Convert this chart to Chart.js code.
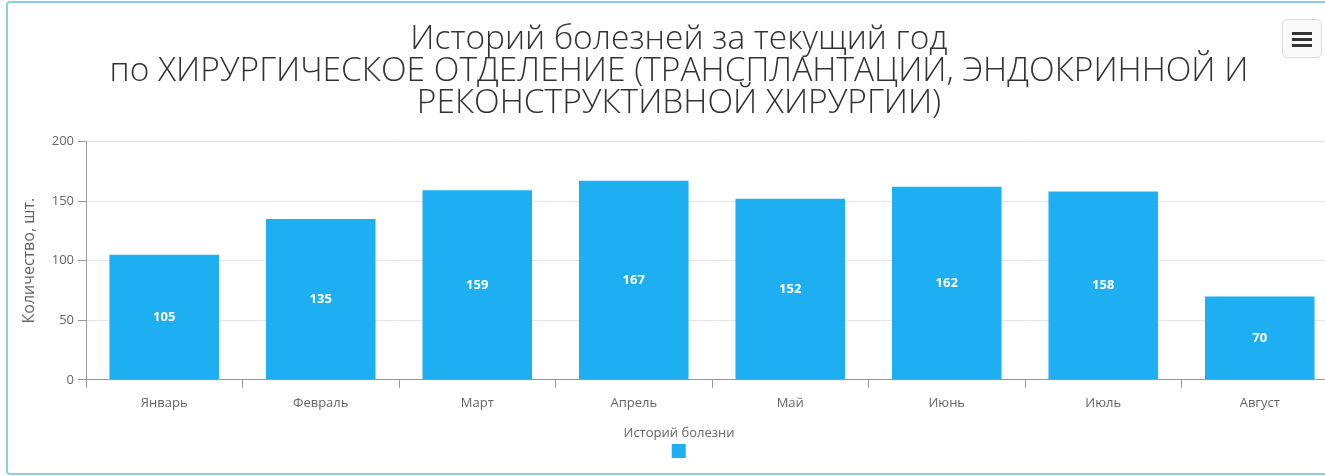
<!DOCTYPE html>
<html lang="ru">
<head>
    <meta charset="UTF-8">
    <title>Историй болезней за текущий год</title>
    <script src="https://cdn.jsdelivr.net/npm/chart.js"></script>
    <style>
        body {
            margin: 0;
            overflow: hidden;
            background: #fff;
            font-family: "Open Sans", sans-serif;
        }
        #box {
            position: absolute;
            left: 6px;
            top: 1px;
            width: 1340px;
            height: 470px;
            border: 2px solid #8ad2da;
            border-radius: 4px;
        }
        #chart {
            position: absolute;
            left: 0;
            top: 0;
        }
        /* menu button in the corner */
        #menu {
            position: absolute;
            left: 1274px;
            top: 16px;
            width: 38px;
            height: 37px;
            border: 1px solid #dcdcdc;
            border-radius: 5px;
            background: #fafafa;
        }
        #menu span {
            position: absolute;
            left: 9px;
            width: 20px;
            height: 3px;
            background: #333;
        }
    </style>
</head>
<body>
    <div id="box">
        <canvas id="chart" width="1340" height="470"></canvas>
        <div id="menu"><span style="top:12px"></span><span style="top:18px"></span><span style="top:24px"></span></div>
    </div>

    <script>
        const months = ['Январь', 'Февраль', 'Март', 'Апрель', 'Май', 'Июнь', 'Июль', 'Август'];
        const cases = [105, 135, 159, 167, 152, 162, 158, 70];
        const yTicks = [0, 50, 100, 150, 200];
        const seriesName = 'Историй болезни';

        // white value labels in the middle of each bar
        const barLabels = {
            id: 'barLabels',
            afterDatasetsDraw(chart) {
                const ctx = chart.ctx;
                const meta = chart.getDatasetMeta(0);
                ctx.save();
                ctx.fillStyle = '#ffffff';
                ctx.font = 'bold 13px "Open Sans"';
                ctx.textAlign = 'center';
                ctx.textBaseline = 'middle';
                meta.data.forEach((bar, i) => {
                    const mid = (bar.y + bar.base) / 2;
                    ctx.fillText(String(cases[i]), bar.x, mid);
                });
                ctx.restore();
            }
        };

        new Chart(document.getElementById('chart'), {
            type: 'bar',
            data: {
                labels: months,
                datasets: [{
                    label: '',
                    data: cases,
                    backgroundColor: '#1daff2',
                    categoryPercentage: 0.8,
                    barPercentage: 0.875
                }]
            },
            options: {
                responsive: false,
                animation: false,
                layout: { padding: { left: 12, right: 10, top: 21, bottom: 5 } },
                plugins: {
                    title: {
                        display: true,
                        text: ['Историй болезней за текущий год',
                               'по ХИРУРГИЧЕСКОЕ ОТДЕЛЕНИЕ (ТРАНСПЛАНТАЦИИ, ЭНДОКРИННОЙ И',
                               'РЕКОНСТРУКТИВНОЙ ХИРУРГИИ)'],
                        color: '#333',
                        font: { family: 'Open Sans', size: 33.5, weight: 300, lineHeight: 0.95 },
                        padding: { top: 0, bottom: 22 }
                    },
                    legend: {
                        position: 'bottom',
                        title: {
                            display: true,
                            text: seriesName,
                            color: '#666',
                            font: { family: 'Open Sans', size: 13 },
                            padding: { top: 7, bottom: 0 }
                        },
                        labels: {
                            boxWidth: 14,
                            boxHeight: 14,
                            padding: 2,
                            font: { size: 1 }
                        }
                    },
                    tooltip: { enabled: false }
                },
                scales: {
                    x: {
                        grid: {
                            offset: true,
                            drawOnChartArea: false,
                            tickLength: 8,
                            tickColor: '#999'
                        },
                        border: { color: '#999' },
                        ticks: {
                            color: '#666',
                            font: { family: 'Open Sans', size: 13 },
                            padding: 8
                        }
                    },
                    y: {
                        min: 0,
                        max: 200,
                        afterBuildTicks(scale) {
                            scale.ticks = yTicks.map(v => ({ value: v }));
                        },
                        afterFit(scale) { scale.width = 66; },
                        grid: { color: '#e4e4e4', tickLength: 8, tickColor: '#999' },
                        border: { color: '#999' },
                        ticks: {
                            color: '#666',
                            font: { family: 'Open Sans', size: 13 },
                            padding: 4
                        },
                        title: {
                            display: true,
                            text: 'Количество, шт.',
                            color: '#666',
                            font: { family: 'Open Sans', size: 16 },
                            padding: { top: 0, bottom: 4 }
                        }
                    }
                }
            },
            plugins: [barLabels]
        });
    </script>
</body>
</html>
